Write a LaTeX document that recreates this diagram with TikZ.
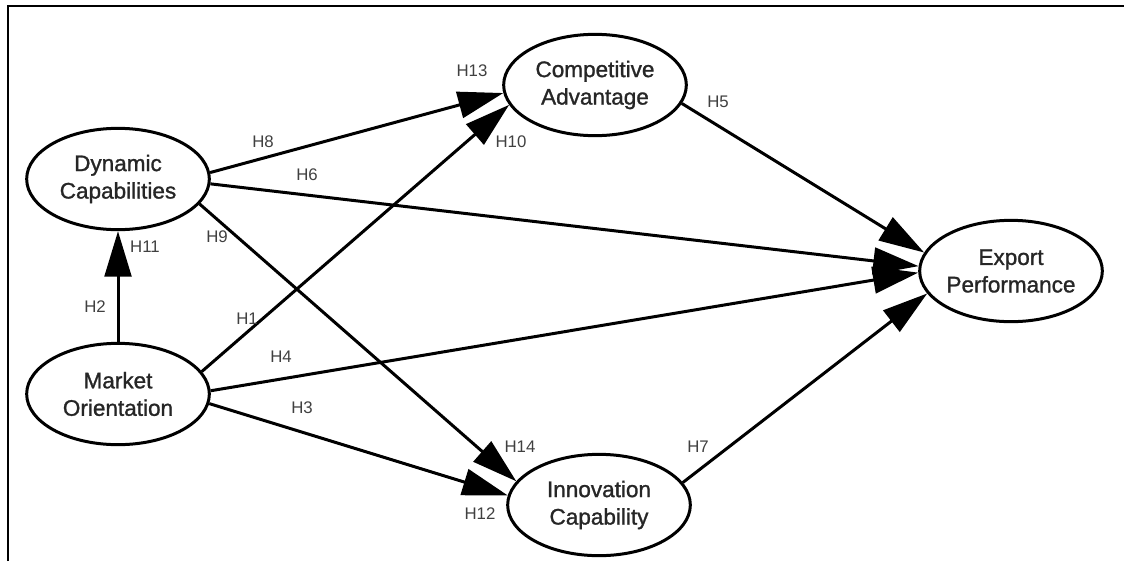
\documentclass[tikz,border=0pt]{standalone}
\usepackage{fontspec}
\setmainfont{Liberation Sans}
\newfontfamily\nodefont[FakeBold=1.2]{Liberation Sans}
\usetikzlibrary{shapes.geometric, arrows.meta, positioning}

\begin{document}
\begin{tikzpicture}[x=0.75pt,y=0.75pt,yscale=-1,xscale=1,
    construct/.style={ellipse, draw, line width=2.25pt, minimum width=137pt, minimum height=76pt,
        inner sep=0pt, align=center, text=black!85, font=\nodefont\fontsize{16.9}{20.6}\selectfont},
    hyp/.style={line width=2.25pt, -{Triangle[length=34pt,width=20pt]}},
    hlabel/.style={inner sep=0pt, text=black!75, font=\fontsize{12.6}{14}\selectfont}]
        \useasboundingbox (0,0) rectangle (1124,561);

        %Frame
        \draw[line width=1.5pt] (8,561) -- (8,5.5) -- (1124,5.5) ;

        %Ellipses
        \node[construct] (dc) at (118,179) {Dynamic\\Capabilities};
        \node[construct] (mo) at (118,394) {Market\\Orientation};
        \node[construct] (ca) at (595,85) {Competitive\\Advantage};
        \node[construct] (ic) at (599,505) {Innovation\\Capability};
        \node[construct] (ep) at (1011,271) {Export\\Performance};

        %Arrows
        \draw[hyp] (mo.north) -- (dc.south) ;
        \draw[hyp] (dc.4) -- (ca.185) ;
        \draw[hyp] (dc.357) -- (ep.177) ;
        \draw[hyp] (dc.343) -- (ic.164) ;
        \draw[hyp] (mo.15) -- (ca.193) ;
        \draw[hyp] (mo.2) -- (ep.181) ;
        \draw[hyp] (mo.354) -- (ic.174) ;
        \draw[hyp] (ca.348) -- (ep.168) ;
        \draw[hyp] (ic.15) -- (ep.195) ;

        %Labels
        \node[hlabel] (h1) at (247,319) {H1};
        \node[hlabel] (h2) at (95,307) {H2};
        \node[hlabel] (h3) at (302,408) {H3};
        \node[hlabel] (h4) at (281,357) {H4};
        \node[hlabel] (h5) at (718,102) {H5};
        \node[hlabel] (h6) at (307,175) {H6};
        \node[hlabel] (h7) at (698,447) {H7};
        \node[hlabel] (h8) at (263,142) {H8};
        \node[hlabel] (h9) at (217,237) {H9};
        \node[hlabel] (h10) at (511,142) {H10};
        \node[hlabel] (h11) at (145,247) {H11};
        \node[hlabel] (h12) at (480,514) {H12};
        \node[hlabel] (h13) at (472,71) {H13};
        \node[hlabel] (h14) at (520,447) {H14};

    \end{tikzpicture}
\end{document}
